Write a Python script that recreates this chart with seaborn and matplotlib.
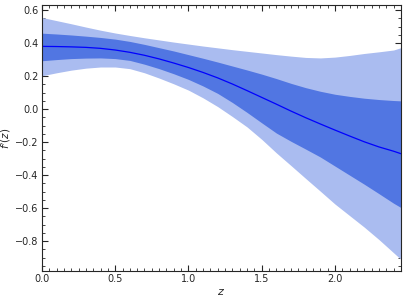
import matplotlib
matplotlib.use("Agg")
import matplotlib.pyplot as plt
from matplotlib.ticker import MultipleLocator
import seaborn as sns
import pandas as pd

# %% Data ----
z = [0.0, 0.1, 0.2, 0.3, 0.4, 0.5, 0.6, 0.7, 0.8, 0.9, 1.0, 1.1, 1.2,
     1.3, 1.4, 1.5, 1.6, 1.7, 1.8, 1.9, 2.0, 2.1, 2.2, 2.3, 2.4, 2.45]
f_mean = [0.380, 0.379, 0.377, 0.374, 0.368, 0.358, 0.344, 0.326, 0.304, 0.279, 0.252, 0.222, 0.189,
          0.152, 0.112, 0.071, 0.030, -0.012, -0.052, -0.090, -0.127, -0.163, -0.198, -0.229, -0.255, -0.270]
f_1s_hi = [0.460, 0.455, 0.449, 0.442, 0.434, 0.424, 0.410, 0.392, 0.372, 0.352, 0.330, 0.308, 0.285,
           0.261, 0.237, 0.212, 0.185, 0.156, 0.130, 0.108, 0.090, 0.077, 0.066, 0.058, 0.052, 0.050]
f_1s_lo = [0.293, 0.300, 0.306, 0.309, 0.310, 0.306, 0.295, 0.272, 0.245, 0.214, 0.180, 0.140, 0.095,
           0.040, -0.020, -0.083, -0.145, -0.195, -0.242, -0.290, -0.345, -0.400, -0.455, -0.512, -0.570, -0.596]
f_2s_hi = [0.555, 0.536, 0.517, 0.497, 0.478, 0.461, 0.446, 0.432, 0.419, 0.406, 0.394, 0.382, 0.371,
           0.360, 0.350, 0.340, 0.330, 0.321, 0.313, 0.310, 0.315, 0.325, 0.337, 0.347, 0.358, 0.372]
f_2s_lo = [0.202, 0.220, 0.236, 0.248, 0.255, 0.255, 0.245, 0.220, 0.188, 0.153, 0.115, 0.068, 0.015,
           -0.045, -0.108, -0.183, -0.265, -0.342, -0.420, -0.497, -0.575, -0.645, -0.715, -0.790, -0.870, -0.910]

df = pd.DataFrame({'z': z, 'mean': f_mean,
                   'lo1': f_1s_lo, 'hi1': f_1s_hi,
                   'lo2': f_2s_lo, 'hi2': f_2s_hi})

# %% Plot ----
sns.set_style("ticks")
plt.rcParams['font.family'] = ['DejaVu Sans']

fig = plt.figure(figsize=(4.07, 3.0), dpi=100)
ax = fig.add_axes([0.103, 0.097, 0.882, 0.886])

ax.fill_between(df['z'], df['lo2'], df['hi2'], color='#aabcf0', lw=0)
ax.fill_between(df['z'], df['lo1'], df['hi1'], color='#5176e2', lw=0)
sns.lineplot(data=df, x='z', y='mean', color='#0000ff', lw=0.9, ax=ax)

ax.set_xlim(0, 2.45)
ax.set_ylim(-0.98, 0.63)
ax.xaxis.set_major_locator(MultipleLocator(0.5))
ax.xaxis.set_minor_locator(MultipleLocator(0.05))
ax.yaxis.set_major_locator(MultipleLocator(0.2))
ax.yaxis.set_minor_locator(MultipleLocator(0.05))
ax.tick_params(which='both', direction='in', top=True, right=True, labelsize=7, pad=2.5)
ax.tick_params(which='major', length=4, width=0.8)
ax.tick_params(which='minor', length=2, width=0.6)
for s in ax.spines.values():
    s.set_linewidth(0.8)

ax.set_xlabel('$z$', fontsize=8, labelpad=2)
ax.set_ylabel("$f'(z)$", fontsize=7.5, labelpad=1.5)

fig.savefig('out.png', dpi=100)
